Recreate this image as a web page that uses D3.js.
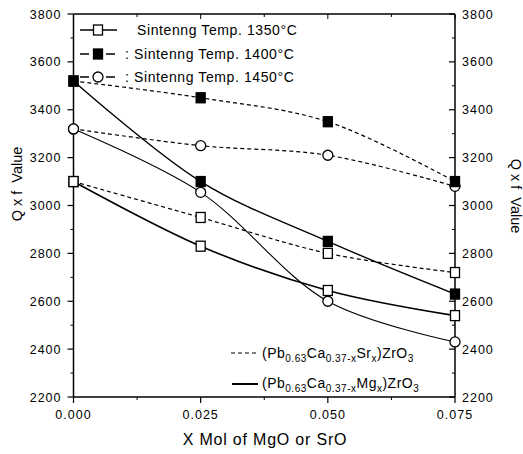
<!DOCTYPE html>
<html><head><meta charset="utf-8">
<script src="https://cdn.jsdelivr.net/npm/d3@7"></script>
<style>body{margin:0;background:#fff}svg{display:block}text{font-family:"Liberation Sans",Arial,sans-serif;fill:#000}</style>
</head><body><svg id="c" width="523" height="454"></svg>
<script>
const xValues = [0, 0.025, 0.05, 0.075];
const xTickLabels = ["0.000", "0.025", "0.050", "0.075"];
const yTicks = [2200, 2400, 2600, 2800, 3000, 3200, 3400, 3600, 3800];
const sr1350 = [3100, 2950, 2800, 2720];
const mg1350 = [3100, 2830, 2645, 2540];
const sr1400 = [3520, 3450, 3350, 3100];
const mg1400 = [3520, 3100, 2850, 2630];
const sr1450 = [3320, 3250, 3210, 3080];
const mg1450 = [3320, 3055, 2600, 2430];
const legendTemps = ["Sintenng Temp. 1350°C", "Sintenng Temp. 1400°C", "Sintenng Temp. 1450°C"];

const svg = d3.select("#c");
const L = 73.5, R = 455, T = 14, B = 397;
const x = d3.scaleLinear().domain([0, 0.075]).range([L, R]);
const y = d3.scaleLinear().domain([2200, 3800]).range([B, T]);

// frame
const g = svg.append("g").attr("stroke", "#000").attr("fill", "none");
g.append("line").attr("x1", L).attr("x2", R).attr("y1", T).attr("y2", T).attr("stroke-width", 1.5);
g.append("line").attr("x1", L).attr("x2", R).attr("y1", B).attr("y2", B).attr("stroke-width", 1.5);
g.append("line").attr("x1", L).attr("x2", L).attr("y1", T).attr("y2", B).attr("stroke-width", 1.5);
g.append("line").attr("x1", R).attr("x2", R).attr("y1", T).attr("y2", B).attr("stroke-width", 1.5);

// y ticks
const yMinor = d3.range(2300, 3800, 200);
yTicks.forEach(v => {
  g.append("line").attr("x1", L - 6).attr("x2", L).attr("y1", y(v)).attr("y2", y(v)).attr("stroke-width", 1.2);
  g.append("line").attr("x1", R - 6).attr("x2", R).attr("y1", y(v)).attr("y2", y(v)).attr("stroke-width", 1.2);
  svg.append("text").attr("x", L - 12).attr("y", y(v) + 4.5).attr("text-anchor", "end").attr("font-size", 12.5).attr("letter-spacing", 1).text(v);
  svg.append("text").attr("x", R + 7).attr("y", y(v) + 4.5).attr("text-anchor", "start").attr("font-size", 12.5).attr("letter-spacing", 1).text(v);
});
yMinor.forEach(v => {
  g.append("line").attr("x1", L - 3).attr("x2", L).attr("y1", y(v)).attr("y2", y(v)).attr("stroke-width", 1);
  g.append("line").attr("x1", R - 3).attr("x2", R).attr("y1", y(v)).attr("y2", y(v)).attr("stroke-width", 1);
});
// x ticks
xValues.forEach((v, i) => {
  g.append("line").attr("x1", x(v)).attr("x2", x(v)).attr("y1", B).attr("y2", B + 6).attr("stroke-width", 1.2);
  g.append("line").attr("x1", x(v)).attr("x2", x(v)).attr("y1", T).attr("y2", T + 5).attr("stroke-width", 1);
  svg.append("text").attr("x", x(v)).attr("y", B + 22).attr("text-anchor", "middle").attr("font-size", 12.5).attr("letter-spacing", 1).text(xTickLabels[i]);
});
d3.range(0.0125, 0.075, 0.025).forEach(v => {
  g.append("line").attr("x1", x(v)).attr("x2", x(v)).attr("y1", B).attr("y2", B + 3).attr("stroke-width", 1);
  g.append("line").attr("x1", x(v)).attr("x2", x(v)).attr("y1", T).attr("y2", T + 3).attr("stroke-width", 1);
});

// titles
svg.append("text").attr("x", 265).attr("y", 445).attr("text-anchor", "middle").attr("font-size", 16).attr("letter-spacing", 0.8).text("X Mol of MgO or SrO");
svg.append("text").attr("transform", "translate(22,184) rotate(-90)").attr("text-anchor", "middle").attr("font-size", 14.5).attr("xml:space", "preserve").text("Q x f  Value");
svg.append("text").attr("transform", "translate(511,196) rotate(90)").attr("text-anchor", "middle").attr("font-size", 14.5).attr("xml:space", "preserve").text("Q x f  Value");

// series
const series = [
  {vals: sr1350, dash: "4,3", marker: "openSq", w: 1.2},
  {vals: mg1350, dash: null, marker: "openSq", w: 1.6},
  {vals: sr1400, dash: "4,3", marker: "fillSq", w: 1.2},
  {vals: mg1400, dash: null, marker: "fillSq", w: 1.4},
  {vals: sr1450, dash: "4,3", marker: "circle", w: 1.2},
  {vals: mg1450, dash: null, marker: "circle", w: 1.1},
];
const line = d3.line().x((d, i) => x(xValues[i])).y(d => y(d)).curve(d3.curveCatmullRom.alpha(0.5));
series.forEach(s => {
  svg.append("path").attr("d", line(s.vals)).attr("fill", "none").attr("stroke", "#000")
    .attr("stroke-width", s.w).attr("stroke-dasharray", s.dash);
});
function marker(sel, type, cx, cy) {
  if (type === "circle") {
    sel.append("circle").attr("cx", cx).attr("cy", cy).attr("r", 5).attr("fill", "#fff").attr("stroke", "#000").attr("stroke-width", 1.3);
  } else {
    sel.append("rect").attr("x", cx - 4.5).attr("y", cy - 5).attr("width", 9).attr("height", 10)
      .attr("fill", type === "fillSq" ? "#000" : "#fff").attr("stroke", "#000").attr("stroke-width", 1.3);
  }
}
[0, 1, 4, 5, 2, 3].forEach(k => {
  const s = series[k];
  s.vals.forEach((v, i) => marker(svg, s.marker, x(xValues[i]), y(v)));
});

// top legend
const legTypes = ["openSq", "fillSq", "circle"];
const legY = [30, 54, 77];
legTypes.forEach((t, i) => {
  svg.append("line").attr("x1", 80).attr("x2", 117).attr("y1", legY[i]).attr("y2", legY[i])
    .attr("stroke", "#000").attr("stroke-width", 1.3).attr("stroke-dasharray", i === 0 ? null : "9,4");
  marker(svg, t, 98, legY[i]);
  const tx = i === 0 ? 137 : 125;
  svg.append("text").attr("x", tx).attr("y", legY[i] + 5).attr("font-size", 14).attr("letter-spacing", 0.6)
    .text(i === 0 ? legendTemps[i] : ": " + legendTemps[i]);
});

// bottom legend
svg.append("line").attr("x1", 231).attr("x2", 258).attr("y1", 353).attr("y2", 353).attr("stroke", "#000").attr("stroke-width", 1.2).attr("stroke-dasharray", "4,3");
svg.append("line").attr("x1", 232).attr("x2", 258).attr("y1", 384).attr("y2", 384).attr("stroke", "#000").attr("stroke-width", 2);
function formula(yy, el) {
  const t = svg.append("text").attr("x", 262).attr("y", yy).attr("font-size", 14).attr("letter-spacing", 0.5);
  t.append("tspan").text("(Pb");
  t.append("tspan").attr("dy", 4).attr("font-size", 10).text("0.63");
  t.append("tspan").attr("dy", -4).text("Ca");
  t.append("tspan").attr("dy", 4).attr("font-size", 10).text("0.37-x");
  t.append("tspan").attr("dy", -4).text(el);
  t.append("tspan").attr("dy", 4).attr("font-size", 10).text("x");
  t.append("tspan").attr("dy", -4).text(")ZrO");
  t.append("tspan").attr("dy", 4).attr("font-size", 10).text("3");
}
formula(358, "Sr");
formula(388, "Mg");
</script></body></html>
